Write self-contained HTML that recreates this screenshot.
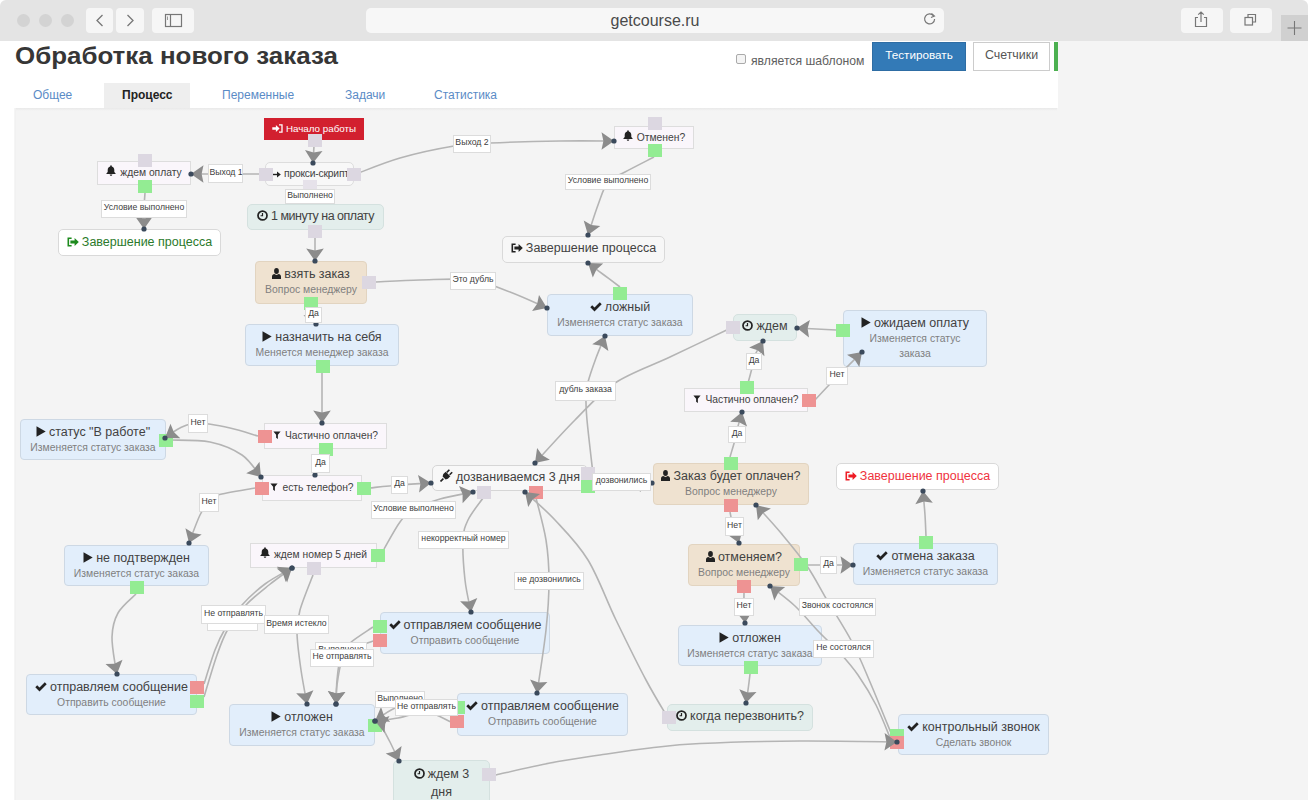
<!DOCTYPE html><html><head><meta charset="utf-8"><style>
*{box-sizing:border-box;margin:0;padding:0}
html,body{width:1308px;height:800px;overflow:hidden;background:#fff;font-family:"Liberation Sans",sans-serif;color:#333}
#chrome{position:absolute;left:0;top:0;width:1308px;height:41px;background:#e4e4e4;border-radius:6px 6px 0 0}
.tl{position:absolute;top:14px;width:13px;height:13px;border-radius:50%;background:#d3d3d3}
.cb{position:absolute;top:8px;height:25px;background:#f6f6f6;border-radius:4px}
#url{position:absolute;left:366px;top:8px;width:578px;height:25px;background:#f7f7f7;border-radius:5px;text-align:center;font-size:16px;line-height:25px;color:#4a4a4a}
#side{position:absolute;left:1058px;top:41px;width:250px;height:67px;background:#f4f4f4}
#canvas{position:absolute;left:15px;top:108px;width:1293px;height:692px;background:#f4f4f4}
#hsh{position:absolute;left:15px;top:108px;width:1042px;height:3px;background:linear-gradient(#e9e9e9,#f4f4f4)}
#lsh{position:absolute;left:14px;top:108px;width:2px;height:692px;background:linear-gradient(90deg,#f7f7f7,#efefef)}
#title{position:absolute;left:15px;top:41px;font-size:24px;font-weight:bold;color:#363636;white-space:nowrap;line-height:30px;transform:scaleX(1.08);transform-origin:0 0}
.tab{position:absolute;top:83px;height:25px;line-height:25px;font-size:12px;color:#5a8bc6;white-space:nowrap}
.n{position:absolute;text-align:center;white-space:nowrap}
.n .tt{font-size:12.5px;line-height:16px;color:#424242}
.n .st{font-size:10.4px;line-height:16px;color:#7f7f7f}
.ic{display:inline-block;vertical-align:-1px;margin-right:3px}
.q .ic{margin-right:4px;vertical-align:0}
.red{background:#d2202f;color:#fff}
.red .tt{color:#fff;font-size:9.8px;line-height:22px}
.q{background:#faf6fb;border:1px solid #ddd}
.q .tt{font-size:10.3px;line-height:25px}
.w{background:#f8f8f8;border:1px solid #ddd;border-radius:5px}
.w .tt{font-size:10.3px;letter-spacing:-0.2px;line-height:23px;text-align:left;padding-left:5px}
.w2{background:#f8f8f8;border:1px solid #d6d6d6;border-radius:5px}
.w2 .tt{line-height:24px}
.end,.end2{background:#fff;border:1px solid #d9d9d9;border-radius:5px}
.end2{background:#f7f7f7}
.end .tt,.end2 .tt{line-height:25px}
.teal{background:#e3eeec;border:1px solid #d4e1df;border-radius:5px}
.teal .tt{line-height:25px}
.t2{padding-top:5px}
.t2 .tt{line-height:17.5px}
.tan{background:#efe2d0;border:1px solid #e2d4c0;border-radius:4px;padding-top:4.2px}
.blue{background:#e2eefb;border:1px solid #cdd8e4;border-radius:4px;padding-top:4.2px}
.lb{position:absolute;background:#fff;border:1px solid #dcdcdc;font-size:8.7px;color:#404040;text-align:center;white-space:nowrap}
svg.ov{position:absolute;left:0;top:0}
</style></head><body>
<div id="chrome">
<div class="tl" style="left:16.5px"></div>
<div class="tl" style="left:38.5px"></div>
<div class="tl" style="left:60.5px"></div>
<div class="cb" style="left:86px;width:27px"></div><div class="cb" style="left:116px;width:28px"></div><div class="cb" style="left:152px;width:42px"></div>
<div class="cb" style="left:1181px;width:42px"></div><div class="cb" style="left:1230px;width:42px"></div>
<div style="position:absolute;left:1281px;top:15px;width:27px;height:26px;background:#d0d0d0"></div>
<div id="url">getcourse.ru</div>
<svg class="ov" width="1308" height="41" style="position:absolute;left:0;top:0">
<path d="M102.5,15L97,20.5L102.5,26" fill="none" stroke="#777" stroke-width="1.3"/>
<path d="M127.5,15L133,20.5L127.5,26" fill="none" stroke="#777" stroke-width="1.3"/>
<rect x="165.5" y="14.5" width="16" height="12" fill="none" stroke="#777" stroke-width="1.2"/><path d="M170.5,14.5V26.5" stroke="#777" stroke-width="1.2"/><path d="M167.5,16.5V20" stroke="#999" stroke-width="1"/>
<path d="M933.5,15.8A5,5 0 1 0 934.6,19" fill="none" stroke="#777" stroke-width="1.2"/><path d="M931.5,13.5L934.5,16L931,17.5" fill="none" stroke="#777" stroke-width="1.1"/>
<path d="M1198,17.5h-2.5v9h11v-9h-2.5M1201,12v10M1198.2,14.6L1201,12L1203.8,14.6" fill="none" stroke="#777" stroke-width="1.2"/>
<rect x="1245" y="17.5" width="7.5" height="7.5" fill="none" stroke="#777" stroke-width="1.2"/><path d="M1248,17.5V14.5h7.5v7.5h-3" fill="none" stroke="#777" stroke-width="1.2"/>
<path d="M1294.5,21v14M1287.5,28h14" stroke="#777" stroke-width="1.1"/>
</svg>
</div>
<div id="side"></div><div id="canvas"></div><div id="hsh"></div><div id="lsh"></div>
<div id="title">Обработка нового заказа</div>
<div style="position:absolute;left:104px;top:83px;width:86px;height:25px;background:#eeeeee"></div>
<div class="tab" style="left:33px">Общее</div>
<div class="tab" style="left:122px;color:#222;font-weight:bold">Процесс</div>
<div class="tab" style="left:222px">Переменные</div>
<div class="tab" style="left:345px">Задачи</div>
<div class="tab" style="left:434px">Статистика</div>
<div style="position:absolute;left:736px;top:54px;width:10px;height:10px;border:1px solid #aaa;border-radius:2px;background:#f4f4f4"></div>
<div style="position:absolute;left:751px;top:52.5px;font-size:12.2px;line-height:16px;color:#606060;white-space:nowrap">является шаблоном</div>
<div style="position:absolute;left:872px;top:42px;width:94px;height:29px;background:#337ab7;border:1px solid #2e6da4;color:#fff;font-size:11.7px;line-height:24px;text-align:center">Тестировать</div>
<div style="position:absolute;left:973px;top:42px;width:77px;height:29px;background:#fff;border:1px solid #ccc;color:#555;font-size:12.4px;line-height:24px;text-align:center">Счетчики</div>
<div style="position:absolute;left:1054px;top:42px;width:4px;height:29px;background:#4cb050"></div>
<div class="n red" style="left:264px;top:118px;width:100px;height:22px"><div class="tt" style=""><svg class="ic" width="11" height="9" viewBox="0 0 11 9"><path d="M7 .9h3v7.2H7" fill="none" stroke="#fff" stroke-width="1.3"/><path d="M.3 3.3h3.6V.9l3.7 3.6-3.7 3.6V5.7H.3z" fill="#fff"/></svg><span>Начало работы</span></div></div>
<div class="n q" style="left:97px;top:161px;width:94px;height:23.5px"><div class="tt" style=";line-height:21.5px"><svg class="ic" width="10" height="11" viewBox="0 0 10 11"><path d="M5 0.3c.45 0 .8.35.8.8v.4C7.4 1.9 8.3 3.2 8.3 4.9v2.2l1.3 1.5v.5H.4v-.5l1.3-1.5V4.9c0-1.7.9-3 2.5-3.4v-.4c0-.45.35-.8.8-.8zM3.7 9.5h2.6c0 .8-.6 1.3-1.3 1.3s-1.3-.5-1.3-1.3z" fill="#222"/></svg><span>ждем оплату</span></div></div>
<div class="n w" style="left:265px;top:162px;width:89px;height:24px"><div class="tt" style=";line-height:22.0px"><svg class="ic" width="10" height="7" viewBox="0 0 10 7"><path d="M0 3.5h7.5" stroke="#222" stroke-width="1.4"/><path d="M6 .5L9.8 3.5 6 6.5z" fill="#222"/></svg><span>прокси-скрипт</span></div></div>
<div class="n teal" style="left:247px;top:204px;width:137px;height:26.4px"><div class="tt" style="letter-spacing:-0.5px;line-height:24.4px;margin-top:-1.2px"><svg class="ic" width="11" height="11" viewBox="0 0 12 12"><circle cx="6" cy="6" r="4.9" fill="none" stroke="#222" stroke-width="1.9"/><path d="M6 3.2V6.3H3.9" fill="none" stroke="#222" stroke-width="1.3"/></svg><span>1 минуту на оплату</span></div></div>
<div class="n end" style="left:58px;top:229.4px;width:163px;height:27px"><div class="tt" style="color:#2b7a2b;line-height:25.0px;margin-top:-0.3px"><svg class="ic" width="12" height="10" viewBox="0 0 12 10"><path d="M4.6 1.3H1.3v7.4h3.3" fill="none" stroke="#1d8a1d" stroke-width="1.6"/><path d="M3.4 3.6h4.2V1l4.2 4-4.2 4V6.4H3.4z" fill="#1d8a1d"/></svg><span>Завершение процесса</span></div></div>
<div class="n q" style="left:614px;top:125.5px;width:80px;height:23.5px"><div class="tt" style=";line-height:21.5px"><svg class="ic" width="10" height="11" viewBox="0 0 10 11"><path d="M5 0.3c.45 0 .8.35.8.8v.4C7.4 1.9 8.3 3.2 8.3 4.9v2.2l1.3 1.5v.5H.4v-.5l1.3-1.5V4.9c0-1.7.9-3 2.5-3.4v-.4c0-.45.35-.8.8-.8zM3.7 9.5h2.6c0 .8-.6 1.3-1.3 1.3s-1.3-.5-1.3-1.3z" fill="#222"/></svg><span>Отменен?</span></div></div>
<div class="n end2" style="left:502px;top:235.5px;width:163px;height:27px"><div class="tt" style=";line-height:25.0px;margin-top:-0.3px"><svg class="ic" width="12" height="10" viewBox="0 0 12 10"><path d="M4.6 1.3H1.3v7.4h3.3" fill="none" stroke="#222" stroke-width="1.6"/><path d="M3.4 3.6h4.2V1l4.2 4-4.2 4V6.4H3.4z" fill="#222"/></svg><span>Завершение процесса</span></div></div>
<div class="n tan" style="left:255px;top:261px;width:112px;height:43px"><div class="tt" style=""><svg class="ic" width="9" height="11" viewBox="0 0 9 11"><ellipse cx="4.5" cy="3" rx="2.4" ry="2.9" fill="#222"/><path d="M0 11V8.4C0 7.1 1.2 6.3 2.3 6.1 2.9 6.6 3.7 6.9 4.5 6.9s1.6-.3 2.2-.8C7.8 6.3 9 7.1 9 8.4V11z" fill="#222"/></svg><span>взять заказ</span></div><div class="st">Вопрос менеджеру</div></div>
<div class="n blue" style="left:547px;top:294px;width:146px;height:42px"><div class="tt" style=""><svg class="ic" width="12" height="10" viewBox="0 0 12 10"><path d="M.3 5.2L2.2 3.3 4.5 5.6 9.8 .3 11.7 2.2 4.5 9.4z" fill="#222"/></svg><span>ложный</span></div><div class="st">Изменяется статус заказа</div></div>
<div class="n blue" style="left:245px;top:324px;width:154px;height:42px"><div class="tt" style=""><svg class="ic" width="10" height="11" viewBox="0 0 10 11"><path d="M.5 .3L9.7 5.5 .5 10.7z" fill="#222"/></svg><span>назначить на себя</span></div><div class="st">Меняется менеджер заказа</div></div>
<div class="n teal" style="left:733px;top:314px;width:64px;height:27px"><div class="tt" style=";line-height:25.0px;margin-top:-1.2px"><svg class="ic" width="11" height="11" viewBox="0 0 12 12"><circle cx="6" cy="6" r="4.9" fill="none" stroke="#222" stroke-width="1.9"/><path d="M6 3.2V6.3H3.9" fill="none" stroke="#222" stroke-width="1.3"/></svg><span>ждем</span></div></div>
<div class="n blue" style="left:843px;top:310px;width:144px;height:57px"><div class="tt" style=""><svg class="ic" width="10" height="11" viewBox="0 0 10 11"><path d="M.5 .3L9.7 5.5 .5 10.7z" fill="#222"/></svg><span>ожидаем оплату</span></div><div class="st"><span style="line-height:15px;display:inline-block">Изменяется статус<br>заказа</span></div></div>
<div class="n q" style="left:684px;top:387.5px;width:124px;height:24.7px"><div class="tt" style=";line-height:22.7px"><svg class="ic" width="8" height="8" viewBox="0 0 9 10"><path d="M0 .5h9L5.6 4.6V10L3.4 8.4V4.6z" fill="#222"/></svg><span>Частично оплачен?</span></div></div>
<div class="n blue" style="left:20px;top:419px;width:146px;height:41px"><div class="tt" style=""><svg class="ic" width="10" height="11" viewBox="0 0 10 11"><path d="M.5 .3L9.7 5.5 .5 10.7z" fill="#222"/></svg><span>статус "В работе"</span></div><div class="st">Изменяется статус заказа</div></div>
<div class="n q" style="left:264px;top:423.4px;width:123px;height:25.3px"><div class="tt" style=";line-height:23.3px"><svg class="ic" width="8" height="8" viewBox="0 0 9 10"><path d="M0 .5h9L5.6 4.6V10L3.4 8.4V4.6z" fill="#222"/></svg><span>Частично оплачен?</span></div></div>
<div class="n q" style="left:262px;top:475.4px;width:100px;height:25.2px"><div class="tt" style=";line-height:23.2px"><svg class="ic" width="8" height="8" viewBox="0 0 9 10"><path d="M0 .5h9L5.6 4.6V10L3.4 8.4V4.6z" fill="#222"/></svg><span>есть телефон?</span></div></div>
<div class="n w2" style="left:432px;top:465px;width:156px;height:26px"><div class="tt" style=";line-height:24.0px;margin-top:-1.2px"><svg class="ic" width="13" height="13" viewBox="0 0 13 13"><path d="M.5 12.5L3.4 9.6" stroke="#222" stroke-width="1.6"/><path d="M2.6 7.4L5.6 10.4 7.9 9.7 10.3 7.3 5.7 2.7 3.3 5.1z" fill="#222"/><path d="M6.8 3.4L9.4.8M9.6 5.8L12.2 3.2" stroke="#222" stroke-width="1.6"/></svg><span>дозваниваемся 3 дня</span></div></div>
<div class="n tan" style="left:653px;top:463px;width:156px;height:42px"><div class="tt" style=""><svg class="ic" width="9" height="11" viewBox="0 0 9 11"><ellipse cx="4.5" cy="3" rx="2.4" ry="2.9" fill="#222"/><path d="M0 11V8.4C0 7.1 1.2 6.3 2.3 6.1 2.9 6.6 3.7 6.9 4.5 6.9s1.6-.3 2.2-.8C7.8 6.3 9 7.1 9 8.4V11z" fill="#222"/></svg><span>Заказ будет оплачен?</span></div><div class="st">Вопрос менеджеру</div></div>
<div class="n end" style="left:836px;top:463.3px;width:163px;height:27.2px"><div class="tt" style="color:#ef3340;line-height:25.2px;margin-top:-0.3px"><svg class="ic" width="12" height="10" viewBox="0 0 12 10"><path d="M4.6 1.3H1.3v7.4h3.3" fill="none" stroke="#ee1c25" stroke-width="1.6"/><path d="M3.4 3.6h4.2V1l4.2 4-4.2 4V6.4H3.4z" fill="#ee1c25"/></svg><span>Завершение процесса</span></div></div>
<div class="n blue" style="left:64px;top:545px;width:145px;height:41px"><div class="tt" style=""><svg class="ic" width="10" height="11" viewBox="0 0 10 11"><path d="M.5 .3L9.7 5.5 .5 10.7z" fill="#222"/></svg><span>не подтвержден</span></div><div class="st">Изменяется статус заказа</div></div>
<div class="n q" style="left:250px;top:543.2px;width:127px;height:24.4px"><div class="tt" style=";line-height:22.4px"><svg class="ic" width="10" height="11" viewBox="0 0 10 11"><path d="M5 0.3c.45 0 .8.35.8.8v.4C7.4 1.9 8.3 3.2 8.3 4.9v2.2l1.3 1.5v.5H.4v-.5l1.3-1.5V4.9c0-1.7.9-3 2.5-3.4v-.4c0-.45.35-.8.8-.8zM3.7 9.5h2.6c0 .8-.6 1.3-1.3 1.3s-1.3-.5-1.3-1.3z" fill="#222"/></svg><span>ждем номер 5 дней</span></div></div>
<div class="n tan" style="left:688px;top:544px;width:112px;height:42px"><div class="tt" style=""><svg class="ic" width="9" height="11" viewBox="0 0 9 11"><ellipse cx="4.5" cy="3" rx="2.4" ry="2.9" fill="#222"/><path d="M0 11V8.4C0 7.1 1.2 6.3 2.3 6.1 2.9 6.6 3.7 6.9 4.5 6.9s1.6-.3 2.2-.8C7.8 6.3 9 7.1 9 8.4V11z" fill="#222"/></svg><span>отменяем?</span></div><div class="st">Вопрос менеджеру</div></div>
<div class="n blue" style="left:853px;top:543px;width:145px;height:42px"><div class="tt" style=""><svg class="ic" width="12" height="10" viewBox="0 0 12 10"><path d="M.3 5.2L2.2 3.3 4.5 5.6 9.8 .3 11.7 2.2 4.5 9.4z" fill="#222"/></svg><span>отмена заказа</span></div><div class="st">Изменяется статус заказа</div></div>
<div class="n blue" style="left:380px;top:612px;width:170px;height:42px"><div class="tt" style=""><svg class="ic" width="12" height="10" viewBox="0 0 12 10"><path d="M.3 5.2L2.2 3.3 4.5 5.6 9.8 .3 11.7 2.2 4.5 9.4z" fill="#222"/></svg><span>отправляем сообщение</span></div><div class="st">Отправить сообщение</div></div>
<div class="n blue" style="left:678px;top:625px;width:144px;height:41px"><div class="tt" style=""><svg class="ic" width="10" height="11" viewBox="0 0 10 11"><path d="M.5 .3L9.7 5.5 .5 10.7z" fill="#222"/></svg><span>отложен</span></div><div class="st">Изменяется статус заказа</div></div>
<div class="n blue" style="left:26px;top:674px;width:171px;height:41px"><div class="tt" style=""><svg class="ic" width="12" height="10" viewBox="0 0 12 10"><path d="M.3 5.2L2.2 3.3 4.5 5.6 9.8 .3 11.7 2.2 4.5 9.4z" fill="#222"/></svg><span>отправляем сообщение</span></div><div class="st">Отправить сообщение</div></div>
<div class="n blue" style="left:229px;top:704px;width:146px;height:42px"><div class="tt" style=""><svg class="ic" width="10" height="11" viewBox="0 0 10 11"><path d="M.5 .3L9.7 5.5 .5 10.7z" fill="#222"/></svg><span>отложен</span></div><div class="st">Изменяется статус заказа</div></div>
<div class="n blue" style="left:457px;top:693px;width:171px;height:42.5px"><div class="tt" style=""><svg class="ic" width="12" height="10" viewBox="0 0 12 10"><path d="M.3 5.2L2.2 3.3 4.5 5.6 9.8 .3 11.7 2.2 4.5 9.4z" fill="#222"/></svg><span>отправляем сообщение</span></div><div class="st">Отправить сообщение</div></div>
<div class="n teal" style="left:667px;top:704px;width:146px;height:27px"><div class="tt" style=";line-height:25.0px;margin-top:-1.2px"><svg class="ic" width="11" height="11" viewBox="0 0 12 12"><circle cx="6" cy="6" r="4.9" fill="none" stroke="#222" stroke-width="1.9"/><path d="M6 3.2V6.3H3.9" fill="none" stroke="#222" stroke-width="1.3"/></svg><span>когда перезвонить?</span></div></div>
<div class="n blue" style="left:898px;top:714px;width:151px;height:41px"><div class="tt" style=""><svg class="ic" width="12" height="10" viewBox="0 0 12 10"><path d="M.3 5.2L2.2 3.3 4.5 5.6 9.8 .3 11.7 2.2 4.5 9.4z" fill="#222"/></svg><span>контрольный звонок</span></div><div class="st">Сделать звонок</div></div>
<div class="n teal t2" style="left:393px;top:760px;width:97px;height:50px"><div class="tt" style=""><svg class="ic" width="11" height="11" viewBox="0 0 12 12"><circle cx="6" cy="6" r="4.9" fill="none" stroke="#222" stroke-width="1.9"/><path d="M6 3.2V6.3H3.9" fill="none" stroke="#222" stroke-width="1.3"/></svg><span>ждем 3<br>дня</span></div></div>
<svg class="ov" width="1308" height="800"><path d="M314,146L313,163" fill="none" stroke="#b4b4b4" stroke-width="1.6"/><path d="M259,174C253.5,174.0 237.3,174.0 226,174C214.7,174.0 196.8,174.0 191,174" fill="none" stroke="#b4b4b4" stroke-width="1.6"/><path d="M356,174C363.3,171.3 383.7,162.7 400,158C416.3,153.3 439.0,148.5 454,146C469.0,143.5 472.3,143.8 490,143C507.7,142.2 539.3,141.3 560,141C580.7,140.7 605.0,141.0 614,141" fill="none" stroke="#b4b4b4" stroke-width="1.6"/><path d="M309,186L310,204" fill="none" stroke="#b4b4b4" stroke-width="1.6"/><path d="M145,193C144.8,195.7 144.2,203.0 144,209C143.8,215.0 144.0,225.7 144,229" fill="none" stroke="#b4b4b4" stroke-width="1.6"/><path d="M315,237L315,261" fill="none" stroke="#b4b4b4" stroke-width="1.6"/><path d="M654,157C649.2,159.5 632.7,167.8 625,172C617.3,176.2 612.5,176.5 608,182C603.5,187.5 601.3,196.2 598,205C594.7,213.8 589.7,230.0 588,235" fill="none" stroke="#b4b4b4" stroke-width="1.6"/><path d="M620,287C617.3,285.0 609.3,279.0 604,275C598.7,271.0 590.7,265.0 588,263" fill="none" stroke="#b4b4b4" stroke-width="1.6"/><path d="M374,282C381.7,281.7 403.7,280.3 420,280C436.3,279.7 457.0,278.0 472,280C487.0,282.0 497.5,287.3 510,292C522.5,296.7 540.8,305.3 547,308" fill="none" stroke="#b4b4b4" stroke-width="1.6"/><path d="M311,310C311.3,311.0 312.2,313.7 313,316C313.8,318.3 315.5,322.7 316,324" fill="none" stroke="#b4b4b4" stroke-width="1.6"/><path d="M322,373L322,423" fill="none" stroke="#b4b4b4" stroke-width="1.6"/><path d="M733,327C722.5,332.0 689.7,347.7 670,357C650.3,366.3 630.8,372.5 615,383C599.2,393.5 588.3,406.7 575,420C561.7,433.3 541.7,455.8 535,463" fill="none" stroke="#b4b4b4" stroke-width="1.6"/><path d="M593,474C592.0,465.0 588.2,433.2 587,420C585.8,406.8 585.8,401.3 586,395C586.2,388.7 586.3,388.2 588,382C589.7,375.8 593.2,365.7 596,358C598.8,350.3 603.5,339.7 605,336" fill="none" stroke="#b4b4b4" stroke-width="1.6"/><path d="M747,387C747.8,383.8 750.7,373.3 752,368C753.3,362.7 753.2,359.5 755,355C756.8,350.5 761.7,343.3 763,341" fill="none" stroke="#b4b4b4" stroke-width="1.6"/><path d="M815,400C817.5,397.3 825.8,388.3 830,384C834.2,379.7 834.7,379.3 840,374C845.3,368.7 858.3,355.7 862,352" fill="none" stroke="#b4b4b4" stroke-width="1.6"/><path d="M836,330L797,328" fill="none" stroke="#b4b4b4" stroke-width="1.6"/><path d="M730,457C730.8,454.2 733.8,444.5 735,440C736.2,435.5 735.8,434.7 737,430C738.2,425.3 741.2,415.0 742,412" fill="none" stroke="#b4b4b4" stroke-width="1.6"/><path d="M593,485C597.5,484.8 610.2,484.3 620,484C629.8,483.7 646.7,483.2 652,483" fill="none" stroke="#b4b4b4" stroke-width="1.6"/><path d="M730,512C730.5,514.3 731.5,520.8 733,526C734.5,531.2 738.0,540.2 739,543" fill="none" stroke="#b4b4b4" stroke-width="1.6"/><path d="M807,565C810.5,565.0 820.3,565.0 828,565C835.7,565.0 848.8,565.0 853,565" fill="none" stroke="#b4b4b4" stroke-width="1.6"/><path d="M926,536C925.8,532.5 925.5,522.5 925,515C924.5,507.5 923.3,495.0 923,491" fill="none" stroke="#b4b4b4" stroke-width="1.6"/><path d="M744,593C744.0,595.3 743.8,602.0 744,607C744.2,612.0 744.8,620.3 745,623" fill="none" stroke="#b4b4b4" stroke-width="1.6"/><path d="M750,674C749.7,676.7 748.7,685.2 748,690C747.3,694.8 746.3,700.8 746,703" fill="none" stroke="#b4b4b4" stroke-width="1.6"/><path d="M891,733C887.5,724.5 876.5,697.2 870,682C863.5,666.8 859.2,655.7 852,642C844.8,628.3 834.5,612.7 827,600C819.5,587.3 814.7,577.2 807,566C799.3,554.8 789.5,543.2 781,533C772.5,522.8 760.2,509.7 756,505" fill="none" stroke="#b4b4b4" stroke-width="1.6"/><path d="M891,740C888.5,734.2 881.5,715.8 876,705C870.5,694.2 864.0,683.7 858,675C852.0,666.3 846.5,660.2 840,653C833.5,645.8 826.5,639.8 819,632C811.5,624.2 803.2,613.7 795,606C786.8,598.3 774.2,589.3 770,586" fill="none" stroke="#b4b4b4" stroke-width="1.6"/><path d="M496,775C505.0,773.0 532.7,766.3 550,763C567.3,759.7 583.3,757.5 600,755C616.7,752.5 633.3,749.9 650,748C666.7,746.1 675.0,744.7 700,743.5C725.0,742.3 767.2,741.2 800,741C832.8,740.8 880.8,741.8 897,742" fill="none" stroke="#b4b4b4" stroke-width="1.6"/><path d="M668,718C664.3,711.7 654.7,696.3 646,680C637.3,663.7 625.7,640.0 616,620C606.3,600.0 598.2,576.7 588,560C577.8,543.3 565.5,531.3 555,520C544.5,508.7 530.0,496.7 525,492" fill="none" stroke="#b4b4b4" stroke-width="1.6"/><path d="M536,498C537.7,505.0 543.8,526.2 546,540C548.2,553.8 549.0,566.0 549,581C549.0,596.0 548.0,611.3 546,630C544.0,648.7 538.5,682.5 537,693" fill="none" stroke="#b4b4b4" stroke-width="1.6"/><path d="M483,498C480.5,501.7 471.3,513.0 468,520C464.7,527.0 463.5,530.0 463,540C462.5,550.0 463.7,568.0 465,580C466.3,592.0 470.0,606.7 471,612" fill="none" stroke="#b4b4b4" stroke-width="1.6"/><path d="M384,549C386.7,544.5 395.2,528.5 400,522C404.8,515.5 406.3,513.8 413,510C419.7,506.2 430.0,502.0 440,499C450.0,496.0 467.5,493.2 473,492" fill="none" stroke="#b4b4b4" stroke-width="1.6"/><path d="M370,488C374.8,487.5 388.8,485.8 399,485C409.2,484.2 425.7,483.3 431,483" fill="none" stroke="#b4b4b4" stroke-width="1.6"/><path d="M255,488C248.8,489.2 225.7,492.7 218,495C210.3,497.3 212.0,498.7 209,502C206.0,505.3 203.3,508.2 200,515C196.7,521.8 190.8,538.3 189,543" fill="none" stroke="#b4b4b4" stroke-width="1.6"/><path d="M258,436C253.3,434.7 240.0,430.2 230,428C220.0,425.8 206.3,423.0 198,423C189.7,423.0 185.5,425.5 180,428C174.5,430.5 167.5,436.3 165,438" fill="none" stroke="#b4b4b4" stroke-width="1.6"/><path d="M171,440C177.5,440.3 198.2,439.5 210,442C221.8,444.5 233.5,449.2 242,455C250.5,460.8 257.8,473.3 261,477" fill="none" stroke="#b4b4b4" stroke-width="1.6"/><path d="M326,456C325.0,457.2 321.8,459.8 320,463C318.2,466.2 315.8,473.0 315,475" fill="none" stroke="#b4b4b4" stroke-width="1.6"/><path d="M136,594C133.0,597.2 122.0,605.8 118,613C114.0,620.2 112.3,627.5 112,637C111.7,646.5 115.2,663.8 116,670C116.8,676.2 116.8,673.3 117,674" fill="none" stroke="#b4b4b4" stroke-width="1.6"/><path d="M204,684C205.8,678.3 211.5,659.2 215,650C218.5,640.8 220.5,636.5 225,629C229.5,621.5 235.3,612.5 242,605C248.7,597.5 256.7,590.2 265,584C273.3,577.8 287.5,570.7 292,568" fill="none" stroke="#b4b4b4" stroke-width="1.6"/><path d="M204,697C206.2,690.0 213.0,666.3 217,655C221.0,643.7 223.2,637.3 228,629C232.8,620.7 239.2,612.3 246,605C252.8,597.7 261.3,591.2 269,585C276.7,578.8 288.2,570.8 292,568" fill="none" stroke="#b4b4b4" stroke-width="1.6"/><path d="M313,575C310.8,580.8 302.7,600.3 300,610C297.3,619.7 296.8,623.0 297,633C297.2,643.0 299.3,658.2 301,670C302.7,681.8 306.0,698.3 307,704" fill="none" stroke="#b4b4b4" stroke-width="1.6"/><path d="M373,627C369.2,629.7 355.3,638.3 350,643C344.7,647.7 343.2,648.8 341,655C338.8,661.2 337.8,671.8 337,680C336.2,688.2 336.2,700.0 336,704" fill="none" stroke="#b4b4b4" stroke-width="1.6"/><path d="M373,641C369.2,642.5 355.2,646.8 350,650C344.8,653.2 344.2,654.2 342,660C339.8,665.8 338.0,677.7 337,685C336.0,692.3 336.2,700.8 336,704" fill="none" stroke="#b4b4b4" stroke-width="1.6"/><path d="M451,707C446.5,705.8 433.3,699.8 424,700C414.7,700.2 403.2,704.5 395,708C386.8,711.5 378.3,718.8 375,721" fill="none" stroke="#b4b4b4" stroke-width="1.6"/><path d="M451,722C446.8,720.3 434.8,712.7 426,712C417.2,711.3 406.5,716.5 398,718C389.5,719.5 378.8,720.5 375,721" fill="none" stroke="#b4b4b4" stroke-width="1.6"/><path d="M381,725C382.5,727.8 387.0,736.0 390,742C393.0,748.0 397.5,757.8 399,761" fill="none" stroke="#b4b4b4" stroke-width="1.6"/><rect x="308" y="134" width="14" height="13" fill="#dcd7e1"/><rect x="138" y="154" width="14" height="13" fill="#dcd7e1"/><rect x="259" y="168" width="14" height="13" fill="#dcd7e1"/><rect x="347" y="168" width="14" height="13" fill="#dcd7e1"/><rect x="303" y="180" width="14" height="13" fill="#e6e2ea"/><rect x="308" y="225" width="14" height="13" fill="#dcd7e1"/><rect x="648" y="117" width="14" height="13" fill="#dcd7e1"/><rect x="362" y="276" width="14" height="13" fill="#dcd7e1"/><rect x="726" y="321" width="14" height="13" fill="#dcd7e1"/><rect x="581" y="467" width="14" height="13" fill="#dcd7e1"/><rect x="477" y="486" width="14" height="13" fill="#dcd7e1"/><rect x="307" y="562" width="14" height="13" fill="#dcd7e1"/><rect x="662" y="711" width="14" height="13" fill="#dcd7e1"/><rect x="482" y="768" width="14" height="13" fill="#dcd7e1"/><rect x="138" y="180" width="14" height="13" fill="#93ec93"/><rect x="648" y="144" width="14" height="13" fill="#93ec93"/><rect x="304" y="297" width="14" height="13" fill="#93ec93"/><rect x="613" y="287" width="14" height="13" fill="#93ec93"/><rect x="316" y="360" width="14" height="13" fill="#93ec93"/><rect x="740" y="381" width="14" height="13" fill="#93ec93"/><rect x="836" y="324" width="14" height="13" fill="#93ec93"/><rect x="159" y="434" width="14" height="13" fill="#93ec93"/><rect x="319" y="443" width="14" height="13" fill="#93ec93"/><rect x="357" y="482" width="14" height="13" fill="#93ec93"/><rect x="581" y="480" width="14" height="13" fill="#93ec93"/><rect x="724" y="457" width="14" height="13" fill="#93ec93"/><rect x="130" y="581" width="14" height="13" fill="#93ec93"/><rect x="371" y="549" width="14" height="13" fill="#93ec93"/><rect x="794" y="558" width="14" height="13" fill="#93ec93"/><rect x="919" y="536" width="14" height="13" fill="#93ec93"/><rect x="373" y="620" width="14" height="13" fill="#93ec93"/><rect x="744" y="661" width="14" height="13" fill="#93ec93"/><rect x="190" y="695" width="14" height="13" fill="#93ec93"/><rect x="368" y="719" width="14" height="13" fill="#93ec93"/><rect x="451" y="701" width="14" height="13" fill="#93ec93"/><rect x="890" y="729" width="14" height="13" fill="#93ec93"/><rect x="802" y="394" width="14" height="13" fill="#ee9393"/><rect x="258" y="430" width="14" height="13" fill="#ee9393"/><rect x="255" y="482" width="14" height="13" fill="#ee9393"/><rect x="529" y="486" width="14" height="13" fill="#ee9393"/><rect x="724" y="499" width="14" height="13" fill="#ee9393"/><rect x="737" y="580" width="14" height="13" fill="#ee9393"/><rect x="373" y="634" width="14" height="13" fill="#ee9393"/><rect x="190" y="681" width="14" height="13" fill="#ee9393"/><rect x="450" y="715" width="14" height="13" fill="#ee9393"/><rect x="890" y="736" width="14" height="13" fill="#ee9393"/><path d="M313.0,163.0L305.0,150.0L313.6,152.4L322.5,151.0Z" fill="#8c8c8c"/><path d="M191.0,174.0L203.5,165.2L201.6,174.0L203.5,182.8Z" fill="#8c8c8c"/><path d="M614.0,141.0L601.5,149.8L603.4,141.0L601.5,132.2Z" fill="#8c8c8c"/><path d="M144.0,229.0L135.2,216.5L144.0,218.4L152.8,216.5Z" fill="#8c8c8c"/><path d="M315.0,261.0L306.2,248.5L315.0,250.4L323.8,248.5Z" fill="#8c8c8c"/><path d="M588.0,235.0L583.7,220.4L591.4,224.9L600.3,225.9Z" fill="#8c8c8c"/><path d="M588.0,263.0L603.2,263.5L596.5,269.4L592.8,277.5Z" fill="#8c8c8c"/><path d="M547.0,308.0L532.1,311.1L537.2,303.8L539.0,295.0Z" fill="#8c8c8c"/><path d="M316.0,324.0L303.4,315.4L312.3,314.1L319.8,309.2Z" fill="#8c8c8c"/><path d="M322.0,423.0L313.2,410.5L322.0,412.4L330.8,410.5Z" fill="#8c8c8c"/><path d="M535.0,463.0L537.1,447.9L542.2,455.2L549.9,459.8Z" fill="#8c8c8c"/><path d="M605.0,336.0L608.4,350.9L601.0,345.8L592.2,344.3Z" fill="#8c8c8c"/><path d="M763.0,341.0L764.4,356.2L757.7,350.2L749.2,347.5Z" fill="#8c8c8c"/><path d="M862.0,352.0L859.3,367.0L854.5,359.5L847.0,354.7Z" fill="#8c8c8c"/><path d="M797.0,328.0L809.9,319.9L807.6,328.5L809.0,337.4Z" fill="#8c8c8c"/><path d="M742.0,412.0L747.1,426.4L739.2,422.2L730.2,421.7Z" fill="#8c8c8c"/><path d="M652.0,483.0L639.8,492.1L641.4,483.3L639.2,474.6Z" fill="#8c8c8c"/><path d="M739.0,543.0L726.6,534.1L735.5,533.0L743.1,528.3Z" fill="#8c8c8c"/><path d="M853.0,565.0L840.5,573.8L842.4,565.0L840.5,556.2Z" fill="#8c8c8c"/><path d="M923.0,491.0L932.8,502.7L923.9,501.6L915.3,504.2Z" fill="#8c8c8c"/><path d="M745.0,623.0L735.5,611.1L744.3,612.4L753.0,610.0Z" fill="#8c8c8c"/><path d="M746.0,703.0L739.3,689.3L747.6,692.5L756.5,692.0Z" fill="#8c8c8c"/><path d="M756.0,505.0L770.9,508.5L763.1,512.9L757.8,520.2Z" fill="#8c8c8c"/><path d="M770.0,586.0L785.2,587.0L778.3,592.6L774.3,600.6Z" fill="#8c8c8c"/><path d="M897.0,742.0L884.4,750.6L886.4,741.9L884.6,733.1Z" fill="#8c8c8c"/><path d="M525.0,492.0L540.1,494.1L532.8,499.2L528.2,506.9Z" fill="#8c8c8c"/><path d="M537.0,693.0L530.1,679.4L538.5,682.5L547.4,681.9Z" fill="#8c8c8c"/><path d="M471.0,612.0L460.1,601.3L469.0,601.6L477.3,598.1Z" fill="#8c8c8c"/><path d="M473.0,492.0L462.6,503.2L462.6,494.2L459.0,486.0Z" fill="#8c8c8c"/><path d="M431.0,483.0L419.1,492.5L420.4,483.7L418.0,475.0Z" fill="#8c8c8c"/><path d="M189.0,543.0L185.4,528.2L192.9,533.1L201.7,534.6Z" fill="#8c8c8c"/><path d="M165.0,438.0L170.5,423.8L173.8,432.1L180.3,438.3Z" fill="#8c8c8c"/><path d="M261.0,477.0L246.2,473.3L254.1,469.0L259.5,461.8Z" fill="#8c8c8c"/><path d="M315.0,475.0L311.7,460.1L319.1,465.2L327.9,466.8Z" fill="#8c8c8c"/><path d="M117.0,674.0L105.5,664.0L114.4,663.7L122.5,659.8Z" fill="#8c8c8c"/><path d="M292.0,568.0L285.7,581.9L282.9,573.4L276.8,566.8Z" fill="#8c8c8c"/><path d="M292.0,568.0L287.1,582.5L283.5,574.3L276.7,568.4Z" fill="#8c8c8c"/><path d="M307.0,704.0L296.2,693.2L305.2,693.5L313.4,690.2Z" fill="#8c8c8c"/><path d="M336.0,704.0L327.8,691.1L336.4,693.4L345.3,691.9Z" fill="#8c8c8c"/><path d="M336.0,704.0L327.9,691.1L336.6,693.4L345.4,692.0Z" fill="#8c8c8c"/><path d="M375.0,721.0L381.0,707.0L384.0,715.4L390.2,721.8Z" fill="#8c8c8c"/><path d="M375.0,721.0L389.5,716.1L385.2,724.0L384.5,732.9Z" fill="#8c8c8c"/><path d="M399.0,761.0L385.7,753.4L394.5,751.4L401.6,746.0Z" fill="#8c8c8c"/><circle cx="313" cy="163" r="2.6" fill="#3b4a5c"/><circle cx="191" cy="174" r="2.6" fill="#3b4a5c"/><circle cx="614" cy="141" r="2.6" fill="#3b4a5c"/><circle cx="144" cy="229" r="2.6" fill="#3b4a5c"/><circle cx="315" cy="261" r="2.6" fill="#3b4a5c"/><circle cx="588" cy="235" r="2.6" fill="#3b4a5c"/><circle cx="588" cy="263" r="2.6" fill="#3b4a5c"/><circle cx="547" cy="308" r="2.6" fill="#3b4a5c"/><circle cx="316" cy="324" r="2.6" fill="#3b4a5c"/><circle cx="322" cy="423" r="2.6" fill="#3b4a5c"/><circle cx="535" cy="463" r="2.6" fill="#3b4a5c"/><circle cx="605" cy="336" r="2.6" fill="#3b4a5c"/><circle cx="763" cy="341" r="2.6" fill="#3b4a5c"/><circle cx="862" cy="352" r="2.6" fill="#3b4a5c"/><circle cx="797" cy="328" r="2.6" fill="#3b4a5c"/><circle cx="742" cy="412" r="2.6" fill="#3b4a5c"/><circle cx="652" cy="483" r="2.6" fill="#3b4a5c"/><circle cx="739" cy="543" r="2.6" fill="#3b4a5c"/><circle cx="853" cy="565" r="2.6" fill="#3b4a5c"/><circle cx="923" cy="491" r="2.6" fill="#3b4a5c"/><circle cx="745" cy="623" r="2.6" fill="#3b4a5c"/><circle cx="746" cy="703" r="2.6" fill="#3b4a5c"/><circle cx="756" cy="505" r="2.6" fill="#3b4a5c"/><circle cx="770" cy="586" r="2.6" fill="#3b4a5c"/><circle cx="897" cy="742" r="2.6" fill="#3b4a5c"/><circle cx="525" cy="492" r="2.6" fill="#3b4a5c"/><circle cx="537" cy="693" r="2.6" fill="#3b4a5c"/><circle cx="471" cy="612" r="2.6" fill="#3b4a5c"/><circle cx="473" cy="492" r="2.6" fill="#3b4a5c"/><circle cx="431" cy="483" r="2.6" fill="#3b4a5c"/><circle cx="189" cy="543" r="2.6" fill="#3b4a5c"/><circle cx="165" cy="438" r="2.6" fill="#3b4a5c"/><circle cx="261" cy="477" r="2.6" fill="#3b4a5c"/><circle cx="315" cy="475" r="2.6" fill="#3b4a5c"/><circle cx="117" cy="674" r="2.6" fill="#3b4a5c"/><circle cx="292" cy="568" r="2.6" fill="#3b4a5c"/><circle cx="292" cy="568" r="2.6" fill="#3b4a5c"/><circle cx="307" cy="704" r="2.6" fill="#3b4a5c"/><circle cx="336" cy="704" r="2.6" fill="#3b4a5c"/><circle cx="336" cy="704" r="2.6" fill="#3b4a5c"/><circle cx="375" cy="721" r="2.6" fill="#3b4a5c"/><circle cx="375" cy="721" r="2.6" fill="#3b4a5c"/><circle cx="399" cy="761" r="2.6" fill="#3b4a5c"/></svg>
<div class="lb" style="left:208.4px;top:164.2px;width:34.2px;height:18.6px;line-height:14.6px">Выход 1</div>
<div class="lb" style="left:453.4px;top:135.2px;width:37.2px;height:17.6px;line-height:13.6px">Выход 2</div>
<div class="lb" style="left:285.4px;top:189.2px;width:49.2px;height:14.6px;line-height:10.6px">Выполнено</div>
<div class="lb" style="left:101.4px;top:200.2px;width:85.2px;height:17.6px;line-height:13.6px">Условие выполнено</div>
<div class="lb" style="left:565.4px;top:174.2px;width:85.2px;height:15.6px;line-height:11.6px">Условие выполнено</div>
<div class="lb" style="left:450.4px;top:272.2px;width:45.2px;height:17.6px;line-height:13.6px">Это дубль</div>
<div class="lb" style="left:305.4px;top:307.2px;width:16.2px;height:15.6px;line-height:11.6px">Да</div>
<div class="lb" style="left:555.4px;top:381.2px;width:60.2px;height:19.6px;line-height:15.6px">дубль заказа</div>
<div class="lb" style="left:746.4px;top:353.2px;width:15.2px;height:16.6px;line-height:12.6px">Да</div>
<div class="lb" style="left:826.4px;top:367.2px;width:21.2px;height:17.6px;line-height:13.6px">Нет</div>
<div class="lb" style="left:728.4px;top:426.2px;width:17.2px;height:16.6px;line-height:12.6px">Да</div>
<div class="lb" style="left:188.4px;top:414.2px;width:19.2px;height:18.6px;line-height:14.6px">Нет</div>
<div class="lb" style="left:311.4px;top:454.2px;width:18.2px;height:18.6px;line-height:14.6px">Да</div>
<div class="lb" style="left:391.4px;top:476.2px;width:16.2px;height:17.6px;line-height:13.6px">Да</div>
<div class="lb" style="left:592.4px;top:473.2px;width:58.2px;height:17.6px;line-height:13.6px">дозвонились</div>
<div class="lb" style="left:199.4px;top:493.2px;width:19.2px;height:18.6px;line-height:14.6px">Нет</div>
<div class="lb" style="left:371.4px;top:501.2px;width:84.2px;height:17.6px;line-height:13.6px">Условие выполнено</div>
<div class="lb" style="left:418.4px;top:531.2px;width:90.2px;height:17.6px;line-height:13.6px">некорректный номер</div>
<div class="lb" style="left:725.4px;top:517.2px;width:18.2px;height:18.6px;line-height:14.6px">Нет</div>
<div class="lb" style="left:820.4px;top:556.2px;width:16.2px;height:17.6px;line-height:13.6px">Да</div>
<div class="lb" style="left:514.4px;top:572.2px;width:69.2px;height:17.6px;line-height:13.6px">не дозвонились</div>
<div class="lb" style="left:799.4px;top:598.2px;width:76.2px;height:17.6px;line-height:13.6px">Звонок состоялся</div>
<div class="lb" style="left:734.4px;top:598.2px;width:19.2px;height:17.6px;line-height:13.6px">Нет</div>
<div class="lb" style="left:207.4px;top:605.2px;width:50.2px;height:25.6px;line-height:21.6px"></div>
<div class="lb" style="left:201.4px;top:605.2px;width:64.2px;height:18.6px;line-height:14.6px">Не отправлять</div>
<div class="lb" style="left:264.4px;top:615.2px;width:64.2px;height:18.6px;line-height:14.6px">Время истекло</div>
<div class="lb" style="left:315.4px;top:642.2px;width:51.2px;height:16.6px;line-height:12.6px">Выполнено</div>
<div class="lb" style="left:310.4px;top:649.2px;width:63.2px;height:17.6px;line-height:13.6px">Не отправлять</div>
<div class="lb" style="left:813.4px;top:640.2px;width:60.2px;height:17.6px;line-height:13.6px">Не состоялся</div>
<div class="lb" style="left:375.4px;top:691.2px;width:49.2px;height:16.6px;line-height:12.6px">Выполнено</div>
<div class="lb" style="left:395.4px;top:699.2px;width:62.2px;height:16.6px;line-height:12.6px">Не отправлять</div>
</body></html>
